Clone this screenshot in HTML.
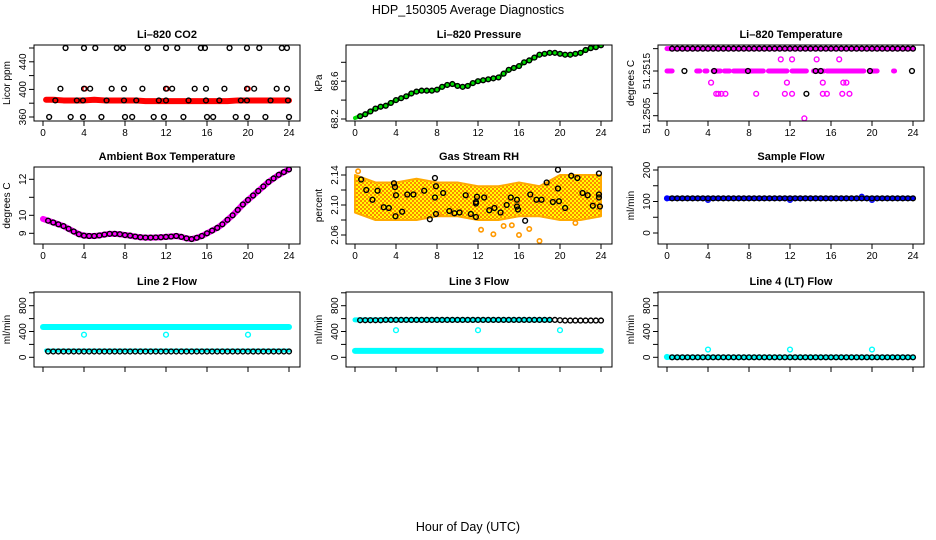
<!DOCTYPE html>
<html><head><meta charset="utf-8"><style>
html,body{margin:0;padding:0;background:#fff;}
svg{display:block;font-family:"Liberation Sans",sans-serif;}
</style></head><body>
<svg id="chart" width="936" height="540" viewBox="0 0 936 540" xmlns="http://www.w3.org/2000/svg">
<rect width="936" height="540" fill="#fff"/>
<text x="468" y="14" text-anchor="middle" font-size="12.5">HDP_150305  Average Diagnostics</text>
<text x="468" y="531" text-anchor="middle" font-size="12.5">Hour of Day (UTC)</text>
</svg>
<script>
// ---- data ----
const halfHours = [0.5,1,1.5,2,2.5,3,3.5,4,4.5,5,5.5,6,6.5,7,7.5,8,8.5,9,9.5,10,10.5,11,11.5,12,12.5,13,13.5,14,14.5,15,15.5,16,16.5,17,17.5,18,18.5,19,19.5,20,20.5,21,21.5,22,22.5,23,23.5,24];
const hours = [0,1,2,3,4,5,6,7,8,9,10,11,12,13,14,15,16,17,18,19,20,21,22,23,24];
const xTicks = [0,4,8,12,16,20,24];

const co2Red = [385,385,384,384,384,385,384,384,384,384,383,383,383,383,383,383,383,383,383,384,384,384,384,384,384];
const co2T460 = [2.2,4.0,5.1,7.2,7.8,10.2,12.0,13.1,15.4,15.8,18.2,19.9,21.1,23.3,23.8];
const co2T401 = [1.7,4.0,4.6,6.7,7.9,9.7,12.0,12.6,14.8,15.9,17.7,19.9,20.6,22.8,23.8];
const co2T384 = [1.2,3.3,3.9,6.2,7.9,9.1,11.3,12.0,14.2,15.9,17.2,19.3,19.9,22.2,23.9];
const co2T360 = [0.6,2.7,3.9,5.7,8.0,8.7,10.8,11.8,13.7,16.0,16.6,18.8,19.9,21.7,24.0];
const co2RedHigh = [4.1,12.1,20.0];

const pressure = [68.23,68.25,68.28,68.31,68.33,68.34,68.37,68.4,68.42,68.44,68.47,68.49,68.5,68.5,68.5,68.51,68.54,68.56,68.57,68.55,68.54,68.55,68.58,68.6,68.61,68.62,68.63,68.64,68.68,68.72,68.74,68.76,68.8,68.82,68.85,68.88,68.89,68.9,68.9,68.89,68.88,68.88,68.89,68.9,68.93,68.95,68.96,68.98];

const tL0 = 51.252, tL1 = 51.25176, tL2 = 51.2515, tL3 = 51.25124, tL4 = 51.25099, tL5 = 51.25044;
const tempSegStart = [0,2.9,3.7,4.5,5.6,6.5,9.9,12.2,14.3,15.6,19.8,22.1];
const tempSegEnd = [0.5,3.2,3.9,5.2,6.1,9.4,11.7,13.6,15.3,19.2,20.5,22.2];
const tempL1 = [11.1,12.2,14.6,16.8];
const tempL3 = [4.3,11.7,15.2,17.2,17.5];
const tempL4 = [4.8,5.0,5.3,5.7,8.7,11.5,12.2,15.2,15.6,17.1,17.8];
const tempL5 = [13.4];
const tempBlackL2 = [1.7,4.6,7.9,14.5,15.0,19.8,23.9];
const tempBlackL4 = [13.6];

const ambient = [9.7,9.6,9.5,9.4,9.25,9.1,8.95,8.87,8.85,8.85,8.88,8.93,8.97,8.97,8.95,8.9,8.87,8.82,8.78,8.76,8.76,8.77,8.78,8.8,8.82,8.85,8.8,8.72,8.68,8.75,8.85,9.0,9.15,9.3,9.5,9.75,10.0,10.3,10.6,10.85,11.1,11.35,11.6,11.85,12.05,12.25,12.4,12.55];

const rhTimes = [0.6,1.1,1.7,2.2,2.8,3.3,3.8,3.9,4.0,3.95,4.6,5.1,5.7,6.75,7.3,7.8,7.8,7.9,7.9,8.6,9.2,9.7,10.2,10.8,11.3,11.8,11.9,11.8,11.8,12.6,13.1,13.6,14.2,14.8,15.2,15.8,15.8,15.9,16.6,17.1,17.7,18.2,18.7,19.3,19.8,19.8,19.9,20.5,21.1,21.7,22.2,22.7,23.2,23.8,23.8,23.8,23.9];
const rhValues = [2.134,2.12,2.107,2.119,2.097,2.096,2.129,2.124,2.113,2.085,2.091,2.114,2.114,2.119,2.081,2.136,2.11,2.125,2.088,2.116,2.092,2.089,2.09,2.113,2.088,2.084,2.111,2.104,2.102,2.11,2.093,2.096,2.09,2.1,2.11,2.107,2.098,2.094,2.079,2.114,2.107,2.107,2.13,2.104,2.147,2.122,2.105,2.096,2.139,2.136,2.116,2.113,2.099,2.142,2.114,2.11,2.098];
const rhBandHours = [0,2,4,6,8,10,12,14,16,18,20,22,24];
const rhBandUpper = [2.14,2.13,2.13,2.135,2.13,2.13,2.125,2.125,2.13,2.125,2.14,2.14,2.14];
const rhBandLower = [2.09,2.08,2.08,2.08,2.085,2.085,2.08,2.08,2.085,2.085,2.08,2.08,2.085];
const rhOutT = [12.3,13.5,16.0,17.0,18.0,21.5,14.5,15.3,8.2,0.3];
const rhOutV = [2.067,2.061,2.06,2.068,2.052,2.076,2.072,2.073,2.088,2.145];

const sampleFlow = [110,110,110,110,110,110,110,110,110,110,110,110,110,110,110,110,110,110,110,110,110,110,110,110,110,110,110,110,110,110,110,110,110,110,110,110,110,110,110,110,110,110,110,110,110,110,110,110];
const sampleBlueT = [0,4,12,19,20];
const sampleBlueV = [110,105,105,115,105];

const line2Black = [90,90,90,90,90,90,90,90,90,90,90,90,90,90,90,90,90,90,90,90,90,90,90,90,90,90,90,90,90,90,90,90,90,90,90,90,90,90,90,90,90,90,90,90,90,90,90,90];
const line2Upper = 470, line2Lower = 105;
const line3Black = [575,575,575,575,575,580,580,580,580,580,580,580,580,580,580,580,580,580,580,580,580,580,580,580,580,580,580,580,580,580,580,580,580,580,580,580,580,580,580,575,570,570,570,570,570,570,570,570];
const line3Upper = 580, line3Lower = 100;
const line4Black = [0,0,0,0,0,0,0,0,0,0,0,0,0,0,0,0,0,0,0,0,0,0,0,0,0,0,0,0,0,0,0,0,0,0,0,0,0,0,0,0,0,0,0,0,0,0,0,0];
const cyanOutT = [4,12,20];
const line2OutV = [350,350,350];
const line3OutV = [420,420,420];
const line4OutV = [120,120,120];

// ---- drawing ----
const svg = document.getElementById('chart');
const NS = 'http://www.w3.org/2000/svg';
function el(tag, attrs, parent){
  const e = document.createElementNS(NS, tag);
  for (const k in attrs) e.setAttribute(k, attrs[k]);
  (parent||svg).appendChild(e);
  return e;
}
const colX = [34,346,658], rowY = [45,167,292], rowH = [76,77,75], W = 266;

function makePanel(name, col, row, title, ylab, v0, p0, v1, p1, ticks, labels, showX){
  const g = el('g', {});
  
  
  const bx = colX[col], by = rowY[row], bh = rowH[row];
  const P = {g, bx, by, bh,
    x: h => bx + 9 + h * 10.25,
    y: v => p0 + (v - v0) * (p1 - p0) / (v1 - v0)};
  const t = el('text', {x: bx + W/2, y: by - 7, 'text-anchor':'middle', 'font-size':'11', 'font-weight':'bold'}, g);
  t.textContent = title;
  
  
  const yl = el('text', {transform:`translate(${bx-24},${by+bh/2}) rotate(-90)`, 'text-anchor':'middle', 'font-size':'10'}, g);
  yl.textContent = ylab;
  
  
  const ya = el('g', {}, g);
  
  
  el('line', {x1:bx, x2:bx, y1:P.y(ticks[0]), y2:P.y(ticks[ticks.length-1]), stroke:'#000'}, ya);
  ticks.forEach((v,i) => {
    const yy = P.y(v);
    el('line', {x1:bx-5, x2:bx, y1:yy, y2:yy, stroke:'#000'}, ya);
    if (labels[i]) {
      const lt = el('text', {transform:`translate(${bx-8},${yy}) rotate(-90)`, 'text-anchor':'middle', 'font-size':'10'}, ya);
      lt.textContent = labels[i];
    }
  });
  const xa = el('g', {}, g);
  
  
  el('line', {x1:P.x(0), x2:P.x(24), y1:by+bh, y2:by+bh, stroke:'#000'}, xa);
  xTicks.forEach(h => {
    el('line', {x1:P.x(h), x2:P.x(h), y1:by+bh, y2:by+bh+5, stroke:'#000'}, xa);
    if (showX) {
      const lt = el('text', {x:P.x(h), y:by+bh+15, 'text-anchor':'middle', 'font-size':'10'}, xa);
      lt.textContent = h;
    }
  });
  const clip = el('clipPath', {id:'clip-'+name}, g);
  el('rect', {x:bx, y:by, width:W, height:bh}, clip);
  P.d = el('g', {'clip-path':`url(#clip-${name})`}, g);
  
  
  P.frame = () => el('rect', {x:bx, y:by, width:W, height:bh, fill:'none', stroke:'#000'}, g);
  return P;
}
function circ(P, h, v, color, r, sw){
  const c = el('circle', {cx:P.x(h), cy:P.y(v), r:r||2.4, fill:'none', stroke:color, 'stroke-width':sw||1.4}, P.d);
  
  
  return c;
}
function poly(P, ts, vs, color, w){
  const pts = ts.map((t,i) => P.x(t)+','+P.y(vs[i])).join(' ');
  const p = el('polyline', {points:pts, fill:'none', stroke:color, 'stroke-width':w, 'stroke-linejoin':'round', 'stroke-linecap':'round'}, P.d);
  
  
  return p;
}
function hseg(P, t0, t1, v, color, w){
  const l = el('line', {x1:P.x(t0), x2:P.x(t1), y1:P.y(v), y2:P.y(v), stroke:color, 'stroke-width':w, 'stroke-linecap':'round'}, P.d);
  
  
  return l;
}

// Panel 1: CO2
let P = makePanel('co2', 0, 0, 'Li\u2013820 CO2', 'Licor ppm', 360, 117, 460, 48, [360,380,400,420,440,460], ['360','','400','','440',''], true);
poly(P, hours.map(h => Math.max(0.3,h)), co2Red, '#f00', 6);
co2RedHigh.forEach(t => circ(P, t, 401, '#f00', 2.2));
co2T460.forEach(t => circ(P, t, 460, '#000'));
co2T401.forEach(t => circ(P, t, 401, '#000'));
co2T384.forEach(t => circ(P, t, 384, '#000'));
co2T360.forEach(t => circ(P, t, 360, '#000'));
P.frame();

// Panel 2: Pressure
P = makePanel('pressure', 1, 0, 'Li\u2013820 Pressure', 'kPa', 68.2, 119, 68.8, 62.3, [68.2,68.4,68.6,68.8], ['68.2','','68.6',''], true);
poly(P, [0].concat(halfHours), [68.21].concat(pressure), '#0d0', 4);
halfHours.forEach((t,i) => circ(P, t, pressure[i], '#000'));
P.frame();

// Panel 3: Li-820 Temperature
P = makePanel('temperature', 2, 0, 'Li\u2013820 Temperature', 'degrees C', 51.2505, 115.7, 51.2515, 71, [51.2505,51.251,51.2515,51.252], ['51.2505','','51.2515',''], true);
hseg(P, 0, 24, tL0, '#f0f', 5);
tempSegStart.forEach((s,i) => hseg(P, s, tempSegEnd[i], tL2, '#f0f', 5));
tempL1.forEach(t => circ(P, t, tL1, '#f0f'));
tempL3.forEach(t => circ(P, t, tL3, '#f0f'));
tempL4.forEach(t => circ(P, t, tL4, '#f0f'));
tempL5.forEach(t => circ(P, t, tL5, '#f0f'));
halfHours.forEach(t => circ(P, t, tL0, '#000'));
tempBlackL2.forEach(t => circ(P, t, tL2, '#000'));
tempBlackL4.forEach(t => circ(P, t, tL4, '#000'));
P.frame();

// Panel 4: Ambient Box Temperature
P = makePanel('ambient-temp', 0, 1, 'Ambient Box Temperature', 'degrees C', 9, 233.3, 12, 179.3, [9,10,11,12], ['9','10','','12'], true);
poly(P, [0].concat(halfHours), [9.8].concat(ambient), '#f0f', 6);
halfHours.forEach((t,i) => circ(P, t, ambient[i], '#000'));
P.frame();

// Panel 5: Gas Stream RH
P = makePanel('gas-rh', 1, 1, 'Gas Stream RH', 'percent', 2.06, 235, 2.14, 175, [2.06,2.08,2.10,2.12,2.14], ['2.06','','2.10','','2.14'], true);
const pat = el('pattern', {id:'rhpat', width:4, height:4, patternUnits:'userSpaceOnUse'}, svg);
el('rect', {width:4, height:4, fill:'#ff0'}, pat);
el('rect', {width:2, height:2, fill:'#f80'}, pat);
el('rect', {x:2, y:2, width:2, height:2, fill:'#f80'}, pat);
const bandPts = rhBandHours.map((h,i) => P.x(h)+','+P.y(rhBandUpper[i])).concat(rhBandHours.slice().reverse().map((h,i) => P.x(h)+','+P.y(rhBandLower[rhBandHours.length-1-i]))).join(' ');
const band = el('polygon', {points:bandPts, fill:'url(#rhpat)', stroke:'#fa0', 'stroke-width':2, 'stroke-linejoin':'round'}, P.d);


rhOutT.forEach((t,i) => circ(P, t, rhOutV[i], '#f90', 2.2, 1.6));
rhTimes.forEach((t,i) => circ(P, t, rhValues[i], '#000'));
P.frame();

// Panel 6: Sample Flow
P = makePanel('sample-flow', 2, 1, 'Sample Flow', 'ml/min', 0, 233, 200, 170, [0,50,100,150,200], ['0','','100','','200'], true);
hseg(P, 0, 24, 110, '#00f', 5);
sampleBlueT.forEach((t,i) => circ(P, t, sampleBlueV[i], '#00f'));
halfHours.forEach((t,i) => circ(P, t, sampleFlow[i], '#000'));
P.frame();

const flowTicks = [0,200,400,600,800,1000], flowLabels = ['0','','400','','800',''];
// Panel 7: Line 2 Flow
P = makePanel('line2-flow', 0, 2, 'Line 2 Flow', 'ml/min', 0, 357.3, 800, 305.7, flowTicks, flowLabels, false);
hseg(P, 0, 24, line2Upper, '#0ff', 6);
hseg(P, 0.3, 24, line2Lower, '#0ff', 4);
cyanOutT.forEach((t,i) => circ(P, t, line2OutV[i], '#0ff'));
halfHours.forEach((t,i) => circ(P, t, line2Black[i], '#000'));
P.frame();

// Panel 8: Line 3 Flow
P = makePanel('line3-flow', 1, 2, 'Line 3 Flow', 'ml/min', 0, 357.3, 800, 305.7, flowTicks, flowLabels, false);
hseg(P, 0, 24, line3Lower, '#0ff', 6);
hseg(P, 0, 19, line3Upper, '#0ff', 5);
cyanOutT.forEach((t,i) => circ(P, t, line3OutV[i], '#0ff'));
halfHours.forEach((t,i) => circ(P, t, line3Black[i], '#000'));
P.frame();

// Panel 9: Line 4 (LT) Flow
P = makePanel('line4-flow', 2, 2, 'Line 4 (LT) Flow', 'ml/min', 0, 357.3, 800, 305.7, flowTicks, flowLabels, false);
hseg(P, 0, 24, 0, '#0ff', 5);
circ(P, 0, 5, '#0ff');
cyanOutT.forEach((t,i) => circ(P, t, line4OutV[i], '#0ff'));
halfHours.forEach((t,i) => circ(P, t, line4Black[i], '#000'));
P.frame();
</script>
</body></html>
